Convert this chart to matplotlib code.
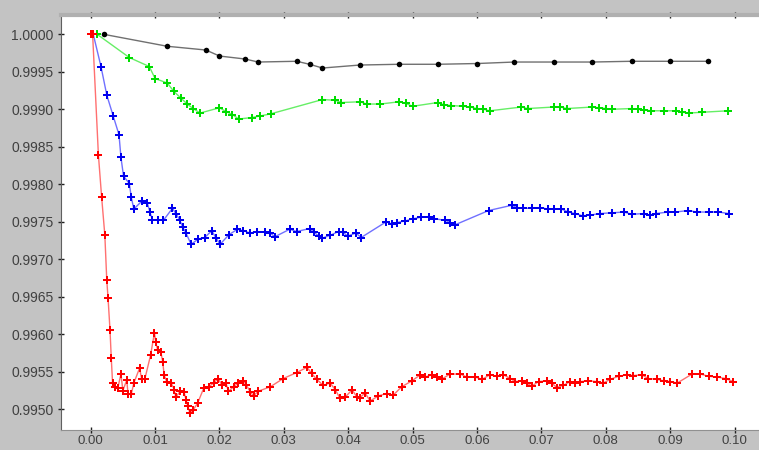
import matplotlib
matplotlib.use("Agg")
import matplotlib.pyplot as plt

# Series: (x, y) samples
black_x = [0.0020, 0.0119, 0.0179, 0.0200, 0.0240, 0.0260, 0.0320, 0.0340, 0.0360,
           0.0418, 0.0479, 0.0539, 0.0600, 0.0658, 0.0719, 0.0779, 0.0840, 0.0899, 0.0959]
black_y = [1.00000, 0.99984, 0.99979, 0.99971, 0.99967, 0.99963, 0.99964, 0.99960, 0.99955,
           0.99959, 0.99960, 0.99960, 0.99961, 0.99963, 0.99963, 0.99963, 0.99964, 0.99964, 0.99964]

green_x = [0.0010, 0.0060, 0.0091, 0.0100, 0.0119, 0.0129, 0.0140, 0.0150, 0.0159, 0.0170,
           0.0200, 0.0210, 0.0220, 0.0230, 0.0250, 0.0263, 0.0280, 0.0360, 0.0380, 0.0389,
           0.0418, 0.0429, 0.0450, 0.0479, 0.0489, 0.0500, 0.0539, 0.0549, 0.0560, 0.0579,
           0.0589, 0.0600, 0.0610, 0.0620, 0.0669, 0.0679, 0.0719, 0.0729, 0.0740, 0.0779,
           0.0790, 0.0800, 0.0810, 0.0840, 0.0850, 0.0860, 0.0871, 0.0890, 0.0909, 0.0919,
           0.0930, 0.0949, 0.0990]
green_y = [1.00000, 0.99969, 0.99957, 0.99941, 0.99935, 0.99924, 0.99915, 0.99907, 0.99901, 0.99895,
           0.99902, 0.99897, 0.99893, 0.99887, 0.99889, 0.99891, 0.99894, 0.99913, 0.99912, 0.99909,
           0.99910, 0.99907, 0.99907, 0.99910, 0.99908, 0.99904, 0.99909, 0.99906, 0.99905, 0.99904,
           0.99903, 0.99901, 0.99900, 0.99898, 0.99903, 0.99901, 0.99903, 0.99903, 0.99901, 0.99903,
           0.99902, 0.99901, 0.99900, 0.99901, 0.99900, 0.99899, 0.99898, 0.99898, 0.99898, 0.99896,
           0.99895, 0.99896, 0.99898]

blue_x = [0.0004, 0.0016, 0.0025, 0.0035, 0.0044, 0.0047, 0.0051, 0.0060, 0.0063, 0.0067,
          0.0080, 0.0088, 0.0092, 0.0096, 0.0104, 0.0113, 0.0127, 0.0133, 0.0138, 0.0143,
          0.0148, 0.0156, 0.0167, 0.0177, 0.0188, 0.0195, 0.0201, 0.0215, 0.0228, 0.0237,
          0.0248, 0.0258, 0.0271, 0.0279, 0.0286, 0.0309, 0.0320, 0.0340, 0.0347, 0.0354,
          0.0359, 0.0372, 0.0385, 0.0392, 0.0399, 0.0412, 0.0420, 0.0459, 0.0468, 0.0475,
          0.0488, 0.0500, 0.0513, 0.0525, 0.0534, 0.0551, 0.0558, 0.0566, 0.0618, 0.0654,
          0.0662, 0.0672, 0.0685, 0.0698, 0.0710, 0.0720, 0.0731, 0.0742, 0.0752, 0.0764,
          0.0776, 0.0791, 0.0810, 0.0828, 0.0841, 0.0859, 0.0868, 0.0878, 0.0897, 0.0908,
          0.0928, 0.0942, 0.0961, 0.0975, 0.0991]
blue_y = [1.00000, 0.99957, 0.99919, 0.99891, 0.99866, 0.99836, 0.99811, 0.99801, 0.99783, 0.99767,
          0.99778, 0.99775, 0.99763, 0.99752, 0.99752, 0.99752, 0.99768, 0.99760, 0.99753, 0.99743,
          0.99735, 0.99720, 0.99727, 0.99729, 0.99738, 0.99728, 0.99720, 0.99733, 0.99740, 0.99738,
          0.99735, 0.99737, 0.99736, 0.99735, 0.99730, 0.99740, 0.99737, 0.99741, 0.99736, 0.99731,
          0.99728, 0.99732, 0.99737, 0.99736, 0.99731, 0.99735, 0.99729, 0.99750, 0.99747, 0.99749,
          0.99751, 0.99754, 0.99756, 0.99757, 0.99754, 0.99752, 0.99749, 0.99746, 0.99765, 0.99772,
          0.99769, 0.99768, 0.99768, 0.99769, 0.99767, 0.99767, 0.99767, 0.99763, 0.99761, 0.99758,
          0.99759, 0.99761, 0.99762, 0.99763, 0.99760, 0.99761, 0.99759, 0.99761, 0.99763, 0.99763,
          0.99765, 0.99763, 0.99763, 0.99763, 0.99761]

red_x = [0.0000, 0.0003, 0.0012, 0.0017, 0.0022, 0.0025, 0.0027, 0.0030, 0.0032, 0.0034,
         0.0038, 0.0042, 0.0047, 0.0050, 0.0056, 0.0058, 0.0063, 0.0067, 0.0076, 0.0079,
         0.0084, 0.0093, 0.0099, 0.0101, 0.0104, 0.0109, 0.0112, 0.0114, 0.0118, 0.0125,
         0.0130, 0.0132, 0.0139, 0.0145, 0.0148, 0.0151, 0.0154, 0.0159, 0.0166, 0.0176,
         0.0183, 0.0191, 0.0198, 0.0204, 0.0210, 0.0214, 0.0222, 0.0229, 0.0237, 0.0242,
         0.0248, 0.0253, 0.0260, 0.0279, 0.0299, 0.0320, 0.0336, 0.0343, 0.0351, 0.0361,
         0.0372, 0.0380, 0.0387, 0.0395, 0.0406, 0.0413, 0.0418, 0.0426, 0.0434, 0.0447,
         0.0460, 0.0470, 0.0483, 0.0499, 0.0512, 0.0519, 0.0530, 0.0538, 0.0545, 0.0558,
         0.0574, 0.0584, 0.0597, 0.0608, 0.0620, 0.0631, 0.0641, 0.0652, 0.0659, 0.0670,
         0.0677, 0.0685, 0.0696, 0.0709, 0.0716, 0.0724, 0.0734, 0.0745, 0.0752, 0.0760,
         0.0773, 0.0786, 0.0796, 0.0807, 0.0820, 0.0833, 0.0843, 0.0856, 0.0866, 0.0879,
         0.0890, 0.0900, 0.0911, 0.0934, 0.0947, 0.0960, 0.0973, 0.0986, 0.0998]
red_y = [1.00000, 1.00000, 0.99839, 0.99783, 0.99732, 0.99672, 0.99648, 0.99606, 0.99568, 0.99535,
         0.99530, 0.99528, 0.99547, 0.99525, 0.99539, 0.99521, 0.99520, 0.99535, 0.99555, 0.99541,
         0.99540, 0.99572, 0.99602, 0.99590, 0.99579, 0.99576, 0.99563, 0.99546, 0.99537, 0.99535,
         0.99526, 0.99516, 0.99524, 0.99523, 0.99513, 0.99504, 0.99495, 0.99499, 0.99508, 0.99529,
         0.99530, 0.99535, 0.99541, 0.99532, 0.99535, 0.99524, 0.99530, 0.99535, 0.99538, 0.99532,
         0.99523, 0.99518, 0.99524, 0.99530, 0.99541, 0.99549, 0.99556, 0.99548, 0.99540, 0.99532,
         0.99535, 0.99526, 0.99515, 0.99516, 0.99526, 0.99517, 0.99515, 0.99522, 0.99511, 0.99518,
         0.99521, 0.99519, 0.99530, 0.99538, 0.99546, 0.99543, 0.99546, 0.99543, 0.99540, 0.99547,
         0.99547, 0.99543, 0.99543, 0.99540, 0.99546, 0.99544, 0.99546, 0.99541, 0.99537, 0.99538,
         0.99535, 0.99531, 0.99537, 0.99538, 0.99535, 0.99529, 0.99532, 0.99537, 0.99535, 0.99537,
         0.99538, 0.99537, 0.99535, 0.99540, 0.99544, 0.99546, 0.99545, 0.99546, 0.99541, 0.99540,
         0.99538, 0.99537, 0.99535, 0.99547, 0.99547, 0.99544, 0.99543, 0.99541, 0.99537]

x_ticks = [0.00, 0.01, 0.02, 0.03, 0.04, 0.05, 0.06, 0.07, 0.08, 0.09, 0.10]
y_ticks = [0.9950, 0.9955, 0.9960, 0.9965, 0.9970, 0.9975, 0.9980, 0.9985, 0.9990, 0.9995, 1.0000]

plt.rcParams['font.family'] = ['Liberation Sans', 'DejaVu Sans']

fig = plt.figure(figsize=(7.59, 4.50), dpi=100, facecolor='#c3c3c3')
ax = fig.add_axes([61 / 759, 20 / 450, 698 / 759, 415 / 450])
ax.set_facecolor('white')

series = [
    (black_x, black_y, '#000000', '#707070', 'o', 4.0),
    (green_x, green_y, '#00dd00', '#66ee66', 'P', 5.2),
    (blue_x, blue_y, '#0000ee', '#7070ff', 'P', 5.2),
    (red_x, red_y, '#ff0000', '#ff7070', 'P', 5.2),
]
for xs, ys, mcol, lcol, mk, ms in series:
    ax.plot(xs, ys, color=lcol, lw=1.0, zorder=2)
    ax.plot(xs, ys, ls='none', marker=mk, ms=ms, color=mcol, mew=0, zorder=3)

ax.set_xlim(-0.00461, 0.1038)
ax.set_ylim(0.994724, 1.000257)

ax.set_xticks(x_ticks)
ax.set_xticklabels([f"{v:.2f}" for v in x_ticks])
ax.set_yticks(y_ticks)
ax.set_yticklabels([f"{v:.4f}" for v in y_ticks])

ax.tick_params(axis='x', which='both', bottom=True, top=True, direction='inout',
               length=5, width=1, color='#202020', labelsize=9.5, labelcolor='#404040', pad=1)
ax.tick_params(axis='y', which='both', left=True, direction='inout',
               length=5, width=1, color='#202020', labelsize=10, labelcolor='#404040', pad=3)

ax.spines['right'].set_visible(False)
ax.spines['left'].set_color('#606060')
ax.spines['bottom'].set_color('#909090')
ax.spines['top'].set_color('#b0b0b0')
ax.spines['top'].set_linewidth(3)

fig.savefig('out.png', dpi=100, facecolor=fig.get_facecolor())
